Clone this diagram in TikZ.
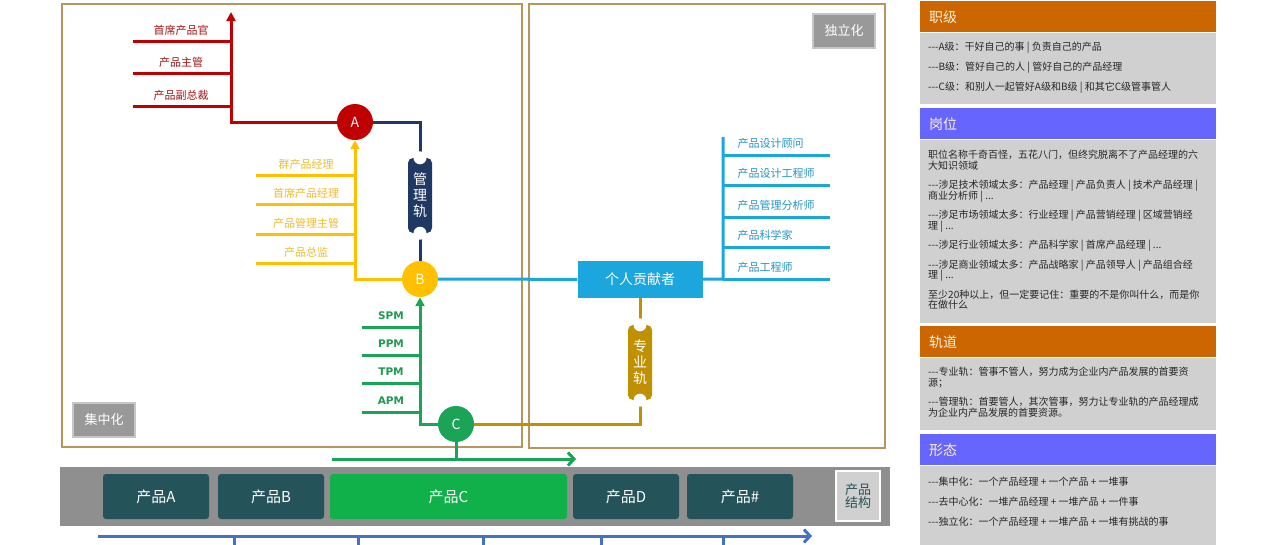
\documentclass[tikz,border=0pt]{standalone}
\usepackage{fontspec}
\setmainfont{Noto Sans CJK SC}
\newfontfamily\pmfont{DejaVu Sans}
\usepackage{tikz}
\usetikzlibrary{arrows.meta}

\definecolor{frametan}{HTML}{B8955E}
\definecolor{tagfill}{HTML}{999999}
\definecolor{tagedge}{HTML}{C6C6C6}
\definecolor{myred}{HTML}{C00000}
\definecolor{redtext}{HTML}{A31515}
\definecolor{navy}{HTML}{1F3864}
\definecolor{gold}{HTML}{FFC000}
\definecolor{goldtext}{HTML}{EDBB2C}
\definecolor{cyan}{HTML}{1CA6DE}
\definecolor{cyantext}{HTML}{2493C6}
\definecolor{brown}{HTML}{BF9000}
\definecolor{pmgreen}{HTML}{1BA358}
\definecolor{greentext}{HTML}{1E9A52}
\definecolor{prodgreen}{HTML}{10B04A}
\definecolor{teal}{HTML}{25535A}
\definecolor{bandgray}{HTML}{8F8F8F}
\definecolor{lightgray}{HTML}{D0D0D0}
\definecolor{arrowblue}{HTML}{4472C4}
\definecolor{headorange}{HTML}{CC6600}
\definecolor{headviolet}{HTML}{6666FF}
\definecolor{headtext}{HTML}{FFF0DC}

\newcommand{\lead}{-{}-{}-}
\newcommand{\panelfont}{\fontsize{10}{10.5}\selectfont\setlength{\lineskiplimit}{-10pt}}

\begin{document}
\begin{tikzpicture}[x=1pt, y=-1pt,
    trunk/.style={line width=3pt},
    frame/.style={draw=frametan, line width=1.5pt, inner sep=0pt},
    tag/.style={fill=tagfill, draw=tagedge, line width=2pt, minimum width=62pt, minimum height=34pt, text=white, font=\fontsize{13}{13}\selectfont},
    dot/.style={circle, minimum size=36pt, inner sep=0pt, text=white, font=\fontsize{14}{14}\selectfont},
    ticket/.style={rounded corners=5pt, minimum width=24pt, minimum height=75pt, inner sep=0pt, text=white, align=center, font=\fontsize{14}{16}\selectfont},
    branchlbl/.style={font=\fontsize{11}{11}\selectfont},
    pmlbl/.style={text=greentext, font=\pmfont\bfseries\fontsize{10.5}{10.5}\selectfont},
    product/.style={rounded corners=3pt, minimum height=45pt, text=white, font=\fontsize{15}{15}\selectfont},
    header/.style={anchor=north west, minimum width=296pt, minimum height=31pt, inner xsep=9pt, inner ysep=0pt, text width=278pt, align=left, text=headtext, font=\fontsize{14}{14}\selectfont},
    panel/.style={anchor=north west, fill=lightgray, minimum width=296pt, inner sep=0pt},
    paneltext/.style={anchor=north west, inner sep=0pt, align=left, text=black!85, font=\panelfont},
    barb/.style={-{Straight Barb[length=6pt, width=13pt, line width=3pt]}}
]
\useasboundingbox (0,0) rectangle (1280,544);

% frames and tags
\node[frame, minimum width=460pt, minimum height=443pt] at (292,225.5) (central) {};
\node[frame, minimum width=356pt, minimum height=444pt] at (707,226) (indep) {};
\node[tag] at (844,31) (indeptag) {独立化};
\node[tag] at (104,420) (centraltag) {集中化};

% grade circles
\node[dot, fill=myred] at (355,122) (A) {A};
\node[dot, fill=gold] at (420,279) (B) {B};
\node[dot, fill=pmgreen] at (456,424) (C) {C};

% red ladder
\coordinate (rcorner) at (231,122);
\coordinate (rtop) at (231,12);
\foreach \y/\t in {41/首席产品官, 73/产品主管, 106/产品副总裁} {
    \coordinate (r\y) at (133,\y);
    \draw[trunk, myred] (r\y) -- (r\y -| rtop);
    \node[branchlbl, text=redtext] at (181,\y-11) (rl\y) {\t};
}
\draw[trunk, myred, -{Triangle[length=9pt, width=9pt]}] (A) -- (rcorner) -- (rtop);

% management track
\node[ticket, fill=navy] at (420,195.5) (mgmt) {管\\理\\轨};
\coordinate (ncorner) at (420,122);
\draw[trunk, navy] (A) -- (ncorner) -- (mgmt);
\draw[trunk, navy] (mgmt) -- (B);

% yellow ladder
\coordinate (ycorner) at (355,279);
\foreach \y/\t in {175/群产品经理, 204/首席产品经理, 234/产品管理主管, 263/产品总监} {
    \coordinate (y\y) at (256,\y);
    \draw[trunk, gold] (y\y) -- (y\y -| ycorner);
    \node[branchlbl, text=goldtext] at (306,\y-11) (yl\y) {\t};
}
\draw[trunk, gold, -{Triangle[length=9pt, width=9pt]}] (B) -- (ycorner) -- (A);

% individual contributor
\node[fill=cyan, minimum width=125pt, minimum height=37pt, text=white, font=\fontsize{14}{14}\selectfont] at (640,279.5) (ic) {个人贡献者};
\draw[trunk, cyan] (B) -- (ic);
\coordinate (bcorner) at (723,279);
\coordinate (btop) at (723,137);
\draw[trunk, cyan] (ic) -- (bcorner) -- (btop);
\foreach \y/\t in {155/产品设计顾问, 185/产品设计工程师, 217/产品管理分析师, 247/产品科学家, 279/产品工程师} {
    \coordinate (b\y) at (830,\y);
    \draw[trunk, cyan] (b\y -| btop) -- (b\y);
    \node[branchlbl, text=cyantext, anchor=west] at (734,\y-12) (bl\y) {\t};
}

% professional track
\node[ticket, fill=brown] at (640,362.5) (prof) {专\\业\\轨};
\coordinate (gcorner) at (640,424);
\draw[trunk, brown] (ic) -- (prof);
\draw[trunk, brown] (prof) -- (gcorner) -- (C);

% ticket notches
\foreach \tk in {mgmt, prof} {
    \fill[white] (\tk.north) circle (6.5);
    \fill[white] (\tk.south) circle (6.5);
}

% green ladder
\coordinate (ccorner) at (420,424);
\foreach \y/\t in {327/SPM, 355/PPM, 383/TPM, 412/APM} {
    \coordinate (g\y) at (362,\y);
    \draw[trunk, pmgreen] (g\y) -- (g\y -| ccorner);
    \node[pmlbl] at (391,\y-11) (gl\y) {\t};
}
\draw[trunk, pmgreen, -{Triangle[length=9pt, width=9pt]}] (C) -- (ccorner) -- (B);

% product band
\coordinate (cbase) at (456,459);
\coordinate (cleft) at (332,459);
\coordinate (cright) at (576,459);
\draw[trunk, pmgreen] (C) -- (cbase);
\draw[trunk, pmgreen, barb] (cleft) -- (cright);

\node[fill=bandgray, minimum width=830pt, minimum height=59pt, inner sep=0pt] at (475,496.5) (band) {};
\node[product, fill=teal, minimum width=106pt] at (156,496.5) (pA) {产品A};
\node[product, fill=teal, minimum width=106pt] at (271,496.5) (pB) {产品B};
\node[product, fill=prodgreen, minimum width=237pt] at (448.5,496.5) (pC) {产品C};
\node[product, fill=teal, minimum width=106pt] at (626,496.5) (pD) {产品D};
\node[product, fill=teal, minimum width=106pt] at (740,496.5) (pN) {产品\#};
\node[fill=lightgray, draw=white, line width=2pt, minimum width=44pt, minimum height=50pt, inner sep=0pt, align=center, text=teal, font=\fontsize{13}{13}\selectfont] at (858,496) (struct) {产品\\结构};

% timeline
\coordinate (tleft) at (98,536);
\coordinate (tright) at (812,536);
\draw[trunk, arrowblue, barb] (tleft) -- (tright);
\foreach \x in {234, 358, 483, 601, 723} {
    \coordinate (tk\x) at (\x,536);
    \draw[trunk, arrowblue] (tk\x) -- (\x,546);
}

% side panels
\node[header, fill=headorange] at (920,1) (jhead) {职级};
\node[panel, minimum height=71pt] at (jhead.south west) (jbody) {};
\node[paneltext] at (928,42) (jtext) {\lead A级：干好自己的事 | 负责自己的产品\\[9.5pt]
\lead B级：管好自己的人 | 管好自己的产品经理\\[9.5pt]
\lead C级：和别人一起管好A级和B级 | 和其它C级管事管人};

\node[header, fill=headviolet] at (920,108) (ghead) {岗位};
\node[panel, minimum height=183pt] at (ghead.south west) (gbody) {};
\node[paneltext] at (928,150) (gtext) {职位名称千奇百怪，五花八门，但终究脱离不了产品经理的六\\大知识领域\\[9pt]
\lead 涉足技术领域太多：产品经理 | 产品负责人 | 技术产品经理 |\\商业分析师 | ...\\[9pt]
\lead 涉足市场领域太多：行业经理 | 产品营销经理 | 区域营销经\\理 | ...\\[9pt]
\lead 涉足行业领域太多：产品科学家 | 首席产品经理 | ...\\[9pt]
\lead 涉足商业领域太多：产品战略家 | 产品领导人 | 产品组合经\\理 | ...\\[9pt]
至少20种以上，但一定要记住：重要的不是你叫什么，而是你\\在做什么};

\node[header, fill=headorange] at (920,326) (thead) {轨道};
\node[panel, minimum height=72pt] at (thead.south west) (tbody) {};
\node[paneltext] at (928,367) (ttext) {\lead 专业轨：管事不管人，努力成为企业内产品发展的首要资\\源；\\[9pt]
\lead 管理轨：首要管人，其次管事，努力让专业轨的产品经理成\\为企业内产品发展的首要资源。};

\node[header, fill=headviolet] at (920,434) (fhead) {形态};
\node[panel, minimum height=79pt] at (fhead.south west) (fbody) {};
\node[paneltext] at (928,477) (ftext) {\lead 集中化：一个产品经理 + 一个产品 + 一堆事\\[9.5pt]
\lead 去中心化：一堆产品经理 + 一堆产品 + 一件事\\[9.5pt]
\lead 独立化：一个产品经理 + 一堆产品 + 一堆有挑战的事};
\end{tikzpicture}
\end{document}
